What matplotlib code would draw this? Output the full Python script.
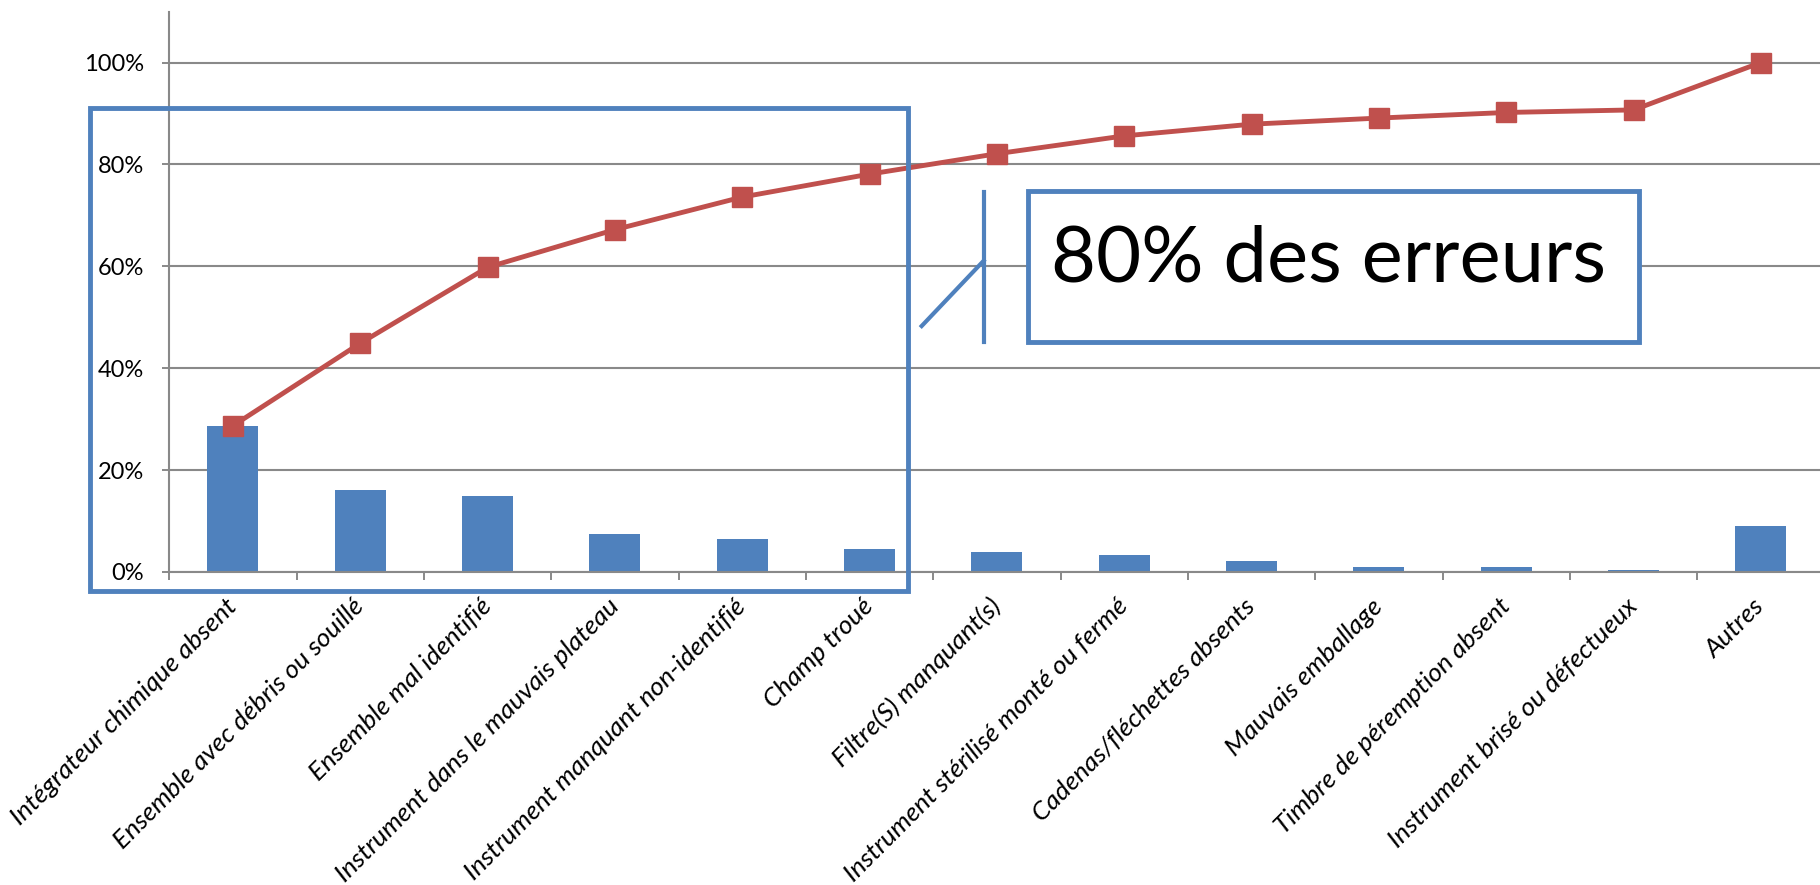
import numpy as np
import matplotlib
matplotlib.use("Agg")
import matplotlib.pyplot as plt
from matplotlib.patches import Rectangle
from matplotlib.lines import Line2D

plt.rcParams['font.family'] = ['Lato', 'DejaVu Sans']

categories = ['Intégrateur chimique absent', 'Ensemble avec débris ou souillé',
              'Ensemble mal identifié', 'Instrument dans le mauvais plateau',
              'Instrument manquant non-identifié', 'Champ troué', 'Filtre(S) manquant(s)',
              'Instrument stérilisé monté ou fermé', 'Cadenas/fléchettes absents',
              'Mauvais emballage', 'Timbre de péremption absent',
              'Instrument brisé ou défectueux', 'Autres']
share = [0.287, 0.161, 0.150, 0.075, 0.064, 0.046, 0.040, 0.034, 0.022, 0.010, 0.010, 0.0045, 0.091]
cumulative = [0.287, 0.449, 0.598, 0.672, 0.736, 0.781, 0.821, 0.856, 0.879, 0.891, 0.902, 0.907, 1.000]
y_ticks = [0, 0.2, 0.4, 0.6, 0.8, 1.0]
y_labels = ['0%', '20%', '40%', '60%', '80%', '100%']

blue = '#4F81BD'
red = '#C0504D'
grey = '#898989'

fig = plt.figure(figsize=(18.2, 8.85), dpi=100)
ax = fig.add_axes([0.0930, 0.3537, 0.9095, 0.6332])

x = np.arange(len(categories))
ax.bar(x, share, width=0.4, color=blue, zorder=2)
ax.plot(x, cumulative, color=red, lw=3.5, marker='s', markersize=14,
        markeredgecolor=red, zorder=3)

ax.set_xlim(-0.5, len(categories) - 0.5)
ax.set_ylim(0, 1.10)
ax.set_yticks(y_ticks)
ax.set_yticklabels(y_labels, fontsize=17)
ax.set_xticks(x)
ax.set_xticklabels(categories, rotation=45, ha='right', va='center',
                   rotation_mode='anchor', fontsize=19, style='italic')
ax.set_xticks(np.arange(-0.5, len(categories)), minor=True)
ax.tick_params(axis='x', which='major', length=0, pad=22)
ax.tick_params(axis='x', which='minor', length=6, width=1.4, color=grey)
ax.tick_params(axis='y', length=5, width=1.4, color=grey, pad=13)

ax.grid(axis='y', color=grey, lw=1.5, zorder=0)
for s in ['top', 'right']:
    ax.spines[s].set_visible(False)
for s in ['left', 'bottom']:
    ax.spines[s].set_color(grey)
    ax.spines[s].set_linewidth(1.5)
ax.spines['bottom'].set_zorder(4)

# encadré "80%"
fig.patches.append(Rectangle((0.0497, 0.3322), 0.4490, 0.5458, transform=fig.transFigure,
                             fill=False, edgecolor=blue, lw=3.5, zorder=5))
fig.patches.append(Rectangle((0.5648, 0.6136), 0.3357, 0.1701, transform=fig.transFigure,
                             facecolor='white', edgecolor=blue, lw=3.5, zorder=5))
fig.lines.append(Line2D([0.5405, 0.5405], [0.6136, 0.7836], transform=fig.transFigure,
                        color=blue, lw=3))
fig.lines.append(Line2D([0.5064, 0.5405], [0.6316, 0.7054], transform=fig.transFigure,
                        color=blue, lw=3))
fig.text(0.5775, 0.6822, '80% des erreurs', fontsize=56, va='baseline', ha='left',
         zorder=6)

fig.savefig('out.png', dpi=100)
